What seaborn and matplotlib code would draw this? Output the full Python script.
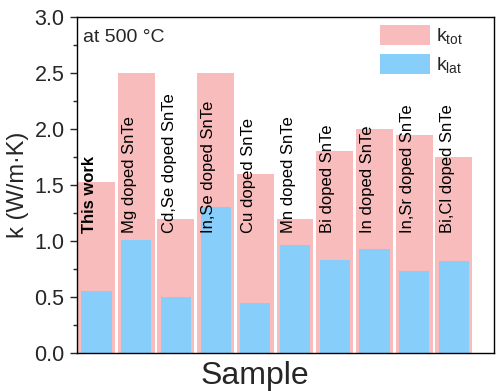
import pandas as pd
import matplotlib
matplotlib.use('Agg')
import matplotlib.pyplot as plt
import seaborn as sns
from matplotlib.patches import Patch
from matplotlib.ticker import MultipleLocator

# -----------------------------
# Dati
# -----------------------------
samples = ['This work', 'Mg doped SnTe', 'Cd,Se doped SnTe', 'In,Se doped SnTe',
           'Cu doped SnTe', 'Mn doped SnTe', 'Bi doped SnTe', 'In doped SnTe',
           'In,Sr doped SnTe', 'Bi,Cl doped SnTe']
k_tot = [1.53, 2.50, 1.20, 2.50, 1.60, 1.20, 1.80, 2.00, 1.95, 1.75]
k_lat = [0.55, 1.01, 0.50, 1.30, 0.45, 0.96, 0.83, 0.93, 0.73, 0.82]

df = pd.DataFrame({'Sample': samples, 'k_tot': k_tot, 'k_lat': k_lat})

pink = '#f9bcbc'
blue = '#87cefa'

sns.set_style('ticks')
plt.rcParams['font.family'] = ['Liberation Sans', 'DejaVu Sans']

fig = plt.figure(figsize=(5, 3.91), dpi=100)
ax = fig.add_axes([0.154, 0.097, 0.834, 0.860])

sns.barplot(data=df, x='Sample', y='k_tot', color=pink, width=0.93,
            saturation=1, linewidth=0, ax=ax)
sns.barplot(data=df, x='Sample', y='k_lat', color=blue, width=0.76,
            saturation=1, linewidth=0, ax=ax)

# etichette dentro le barre
for i, name in enumerate(samples):
    weight = 'bold' if name == 'This work' else 'normal'
    ax.text(i - 0.17, 1.07, name, rotation=90, ha='center', va='bottom',
            fontsize=12, fontweight=weight, color='black')

ax.text(0.015, 0.965, 'at 500 °C', transform=ax.transAxes, ha='left', va='top',
        fontsize=14)

ax.set_xlim(-0.49, 10.01)
ax.set_ylim(0, 3.0)
ax.yaxis.set_minor_locator(MultipleLocator(0.25))
ax.set_yticks([0, 0.5, 1.0, 1.5, 2.0, 2.5, 3.0])
ax.set_yticklabels(['0.0', '0.5', '1.0', '1.5', '2.0', '2.5', '3.0'])
ax.tick_params(axis='y', which='major', direction='out', length=5, width=1,
               labelsize=15.5, pad=4)
ax.tick_params(axis='y', which='minor', direction='out', length=3, width=1)
ax.set_xticks([])
ax.set_xlabel('Sample', fontsize=23, labelpad=2)
ax.xaxis.set_label_coords(0.427, -0.025)
ax.xaxis.label.set_va('top')
ax.set_ylabel('k (W/m·K)', fontsize=17, labelpad=4)

for side in ['top', 'right', 'left', 'bottom']:
    ax.spines[side].set_visible(True)
    ax.spines[side].set_linewidth(1)
    ax.spines[side].set_color('black')

handles = [Patch(facecolor=pink, edgecolor='none', label=r'k$_{\mathregular{tot}}$'),
           Patch(facecolor=blue, edgecolor='none', label=r'k$_{\mathregular{lat}}$')]
ax.legend(handles=handles, loc='upper right', bbox_to_anchor=(0.945, 1.0),
          frameon=False, fontsize=14,
          handlelength=2.6, handleheight=1.25, handletextpad=0.3,
          labelspacing=0.35, borderaxespad=0.0)

fig.savefig('out.png', dpi=100)
